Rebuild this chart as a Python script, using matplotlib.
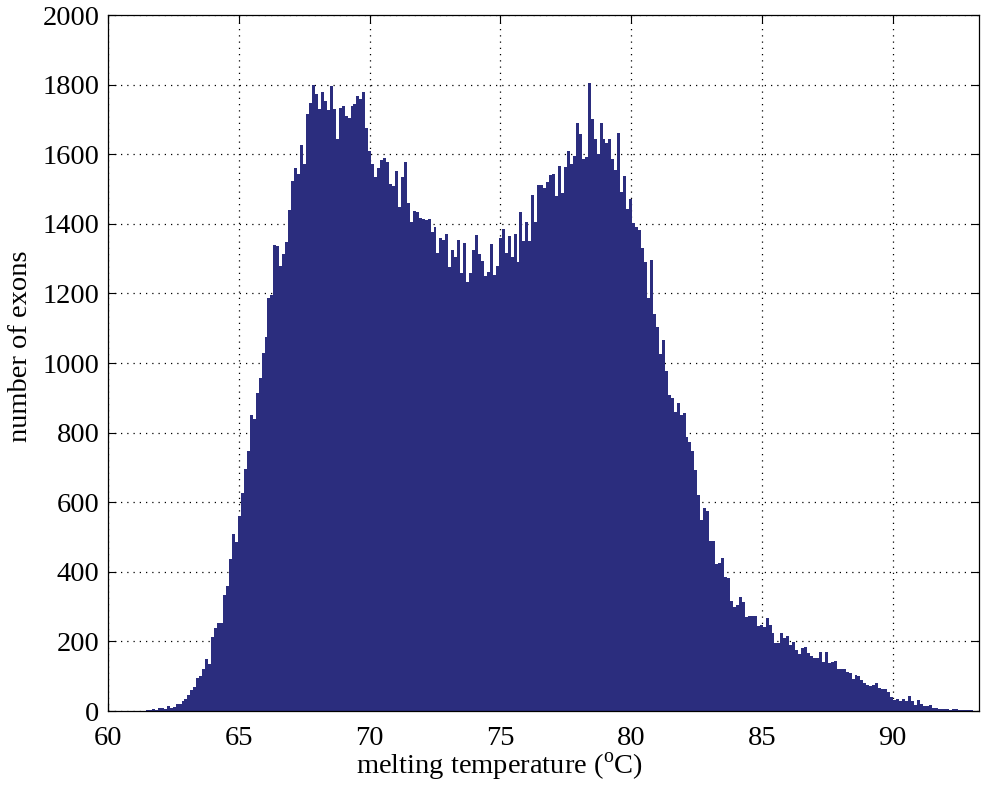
import numpy as np
import matplotlib
matplotlib.use("Agg")
import matplotlib.pyplot as plt

# histogram of exon melting temperatures, counts
TM_START = 61.34
TM_END = 93.3
COUNTS = [
    1, 3, 2, 5, 3, 10, 10, 5, 14, 10, 13, 19, 19, 29, 34, 46, 60, 70, 95, 100, 121,
    150, 135, 213, 238, 253, 253, 333,
    360, 437, 509, 486, 560, 627, 696, 748, 850, 840, 915, 956, 1030, 1074, 1187,
    1195, 1339, 1335, 1280, 1313, 1347,
    1440, 1523, 1561, 1543, 1626, 1572, 1715, 1748, 1799, 1773, 1730, 1779, 1753,
    1727, 1796, 1730, 1644, 1733, 1740, 1710, 1705, 1739, 1744, 1767, 1759, 1779,
    1676, 1609, 1572, 1534, 1560, 1583, 1589, 1578, 1514,
    1509, 1553, 1449, 1534, 1578, 1459, 1406, 1437, 1433, 1418, 1413, 1411,
    1413, 1377, 1392, 1316, 1358, 1353, 1370, 1277, 1325, 1305, 1355, 1260, 1344,
    1232, 1260, 1325, 1368, 1313, 1294, 1250, 1263, 1341, 1254, 1279, 1358, 1384,
    1317, 1365, 1305, 1372, 1291,
    1433, 1351, 1406, 1351, 1483, 1406, 1513, 1511, 1504, 1521, 1540, 1543, 1480,
    1567, 1490, 1564, 1610, 1571, 1596, 1691, 1657, 1586, 1591, 1806, 1700, 1645,
    1602, 1691, 1645, 1633, 1645, 1585, 1556, 1661, 1492, 1537, 1444, 1471, 1403,
    1392, 1382, 1332, 1291, 1188, 1296, 1141, 1103, 1026, 1066, 978, 908, 901, 860,
    886, 851, 857, 788, 774, 748, 693, 621, 549, 584, 575, 489, 489, 422, 426, 439,
    386, 381, 316, 300, 305, 327, 314, 269, 273, 273, 273, 245, 247, 242, 268,
    247, 223, 196, 196, 225, 211, 216, 190, 199, 175, 164, 182, 184, 166, 158,
    151, 151, 170, 142, 170, 139, 142, 144, 120, 122, 120, 111, 110, 91, 103,
    101, 89, 81, 75, 72, 75, 80, 65, 62, 62, 55, 41, 32, 36, 29, 34, 29, 43, 29,
    17, 32, 20, 14, 14, 17, 8, 10, 6, 5, 5, 7, 3, 5, 7, 3, 2, 2, 2, 2, 1, 1,
]
XTICKS = [60, 65, 70, 75, 80, 85, 90]
YTICKS = list(range(0, 2001, 200))

plt.rcParams['font.family'] = ['Liberation Serif', 'DejaVu Serif']
plt.rcParams['mathtext.fontset'] = 'custom'
plt.rcParams['mathtext.rm'] = 'Liberation Serif'

fig = plt.figure(figsize=(9.81, 7.94), dpi=100)
ax = fig.add_axes([0.110, 0.1045, 0.888, 0.8765])

edges = np.linspace(TM_START, TM_END, len(COUNTS) + 1)
ax.stairs(COUNTS, edges, fill=True, color='#2b2d7e', linewidth=0)

ax.set_xlim(60, 93.3)
ax.set_ylim(0, 2000)
ax.set_xticks(XTICKS)
ax.set_yticks(YTICKS)
ax.set_axisbelow(True)
ax.grid(True, linestyle=(0, (1, 4)), color='black', linewidth=0.9)
ax.tick_params(direction='in', length=6, width=0.8, labelsize=20.5,
               top=True, right=True, pad=6)
ax.tick_params(axis='x', pad=10.5)
for s in ax.spines.values():
    s.set_linewidth(0.9)

ax.set_xlabel(r'melting temperature ($^{\rm o}$C)', fontsize=20.5)
ax.set_ylabel('number of exons', fontsize=20.5)
# labels sit a bit off the axes centre in the original
ax.xaxis.set_label_coords(0.45, -0.058)
ax.yaxis.set_label_coords(-0.086, 0.524)

fig.savefig('out.png', dpi=100)
